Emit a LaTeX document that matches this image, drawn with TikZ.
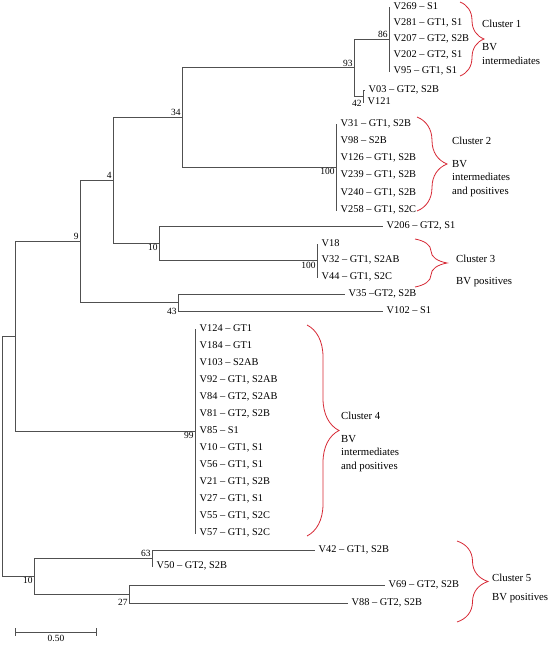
\documentclass[tikz,border=0pt]{standalone}
\usepackage{fontspec}
\setmainfont{Liberation Serif}
\usetikzlibrary{positioning,decorations.pathreplacing}

\definecolor{treegray}{RGB}{80,80,80}
\definecolor{clred}{RGB}{214,40,52}

\begin{document}
\begin{tikzpicture}[x=1bp, y=-1bp,
    branch/.style={draw=treegray, line width=0.8bp},
    leaf/.style={anchor=west, inner xsep=3.5bp, inner ysep=0pt, text height=7bp, text depth=2bp, font=\fontsize{10.4}{12}\selectfont},
    boot/.style={inner sep=1.2bp, font=\fontsize{9.5}{10}\selectfont},
    clbrace/.style={draw=clred, line width=0.8bp, decorate, decoration={brace, amplitude=#1}},
    cltext/.style={anchor=west, align=left, inner sep=0pt, font=\fontsize{10.8}{13.5}\selectfont}]
    \useasboundingbox (0,0) rectangle (549,646);

    % Inner nodes of the tree
    \coordinate (root) at (2,456);
    \coordinate (nJ) at (15,336);
    \coordinate (n9) at (80,241);
    \coordinate (n4) at (113,180);
    \coordinate (n34) at (182,117);
    \coordinate (n93) at (354,67.5);
    \coordinate (n86) at (389,39);
    \coordinate (n42) at (363,96);
    \coordinate (n100a) at (336,167);
    \coordinate (n10a) at (159,243);
    \coordinate (n100b) at (317,260.5);
    \coordinate (n43) at (178,302.5);
    \coordinate (n99) at (195,431);
    \coordinate (n10b) at (34,576);
    \coordinate (n63) at (152,558);
    \coordinate (n27) at (129,594);

    % Leaves, cluster 1
    \foreach \name/\yy/\txt in {v269/7/{V269 -- S1}, v281/23/{V281 -- GT1, S1},
        v207/39/{V207 -- GT2, S2B}, v202/55/{V202 -- GT2, S1}, v95/71/{V95 -- GT1, S1}}
      \node[leaf] (\name) at (390,\yy) {\txt};
    \node[leaf] (v03) at (365,90) {V03 -- GT2, S2B};
    \node[leaf] (v121) at (364,102) {V121};

    % Leaves, cluster 2
    \foreach \name/\yy/\txt in {v31/124/{V31 -- GT1, S2B}, v98/141/{V98 -- S2B},
        v126/158/{V126 -- GT1, S2B}, v239/175/{V239 -- GT1, S2B},
        v240/193/{V240 -- GT1, S2B}, v258/210/{V258 -- GT1, S2C}}
      \node[leaf] (\name) at (337,\yy) {\txt};
    \node[leaf] (v206) at (383,226) {V206 -- GT2, S1};

    % Leaves, cluster 3
    \foreach \name/\yy/\txt in {v18/244/{V18}, v32/260/{V32 -- GT1, S2AB}, v44/277/{V44 -- GT1, S2C}}
      \node[leaf] (\name) at (318,\yy) {\txt};
    \node[leaf] (v35) at (345,294) {V35 --GT2, S2B};
    \node[leaf] (v102) at (383,311) {V102 -- S1};

    % Leaves, cluster 4
    \foreach \name/\txt [count=\i from 0] in {v124/{V124 -- GT1}, v184/{V184 -- GT1},
        v103/{V103 -- S2AB}, v92/{V92 -- GT1, S2AB}, v84/{V84 -- GT2, S2AB},
        v81/{V81 -- GT2, S2B}, v85/{V85 -- S1}, v10/{V10 -- GT1, S1},
        v56/{V56 -- GT1, S1}, v21/{V21 -- GT1, S2B}, v27/{V27 -- GT1, S1},
        v55/{V55 -- GT1, S2C}, v57/{V57 -- GT1, S2C}}
      \node[leaf] (\name) at (196,{329+17*\i}) {\txt};

    % Leaves, cluster 5
    \node[leaf] (v42) at (315,550) {V42 -- GT1, S2B};
    \node[leaf] (v50) at (153,566) {V50 -- GT2, S2B};
    \node[leaf] (v69) at (385,585) {V69 -- GT2, S2B};
    \node[leaf] (v88) at (348,603) {V88 -- GT2, S2B};

    % Draw branches
    \foreach \p/\c in {root/nJ, root/n10b, nJ/n9, nJ/n99, n9/n4, n9/n43,
        n4/n34, n4/n10a, n34/n93, n34/n100a, n93/n86, n93/n42,
        n42/v03, n42/v121, n10a/v206, n10a/n100b, n43/v35, n43/v102,
        n10b/n63, n10b/n27, n63/v42, n63/v50, n27/v69, n27/v88}
      \draw[branch] (\p) |- (\c);
    \foreach \c in {v269,v281,v207,v202,v95}
      \draw[branch] (n86) |- (\c);
    \foreach \c in {v31,v98,v126,v239,v240,v258}
      \draw[branch] (n100a) |- (\c);
    \foreach \c in {v18,v32,v44}
      \draw[branch] (n100b) |- (\c);
    \foreach \c in {v124,v184,v103,v92,v84,v81,v85,v10,v56,v21,v27,v55,v57}
      \draw[branch] (n99) |- (\c);

    % Bootstrap values
    \node[boot, above left] (b86) at (n86) {86};
    \node[boot, above left] (b93) at (n93) {93};
    \node[boot, below left, yshift=-3bp] (b42) at (n42) {42};
    \node[boot, above left] (b34) at (n34) {34};
    \node[boot, below left] (b100a) at (n100a) {100};
    \node[boot, above left] (b4) at (n4) {4};
    \node[boot, below left] (b10a) at (n10a) {10};
    \node[boot, below left] (b100b) at (n100b) {100};
    \node[boot, above left] (b9) at (n9) {9};
    \node[boot, below left, yshift=-4bp] (b43) at (n43) {43};
    \node[boot, below left] (b99) at (n99) {99};
    \node[boot, below left] (b10b) at (n10b) {10};
    \node[boot, above left] (b63) at (n63) {63};
    \node[boot, below left, yshift=-4bp] (b27) at (n27) {27};

    % Cluster braces and notes
    \coordinate (c1top) at (460,2);   \coordinate (c1bot) at (460,76);
    \coordinate (c2top) at (417,117); \coordinate (c2bot) at (417,211);
    \coordinate (c3top) at (415,239); \coordinate (c3bot) at (415,287);
    \coordinate (c4top) at (307,325); \coordinate (c4bot) at (307,536);
    \coordinate (c5top) at (457,541); \coordinate (c5bot) at (457,622);
    \draw[clbrace=24bp] (c1top) -- (c1bot);
    \draw[clbrace=30bp] (c2top) -- (c2bot);
    \draw[clbrace=32bp] (c3top) -- (c3bot);
    \draw[clbrace=32bp] (c4top) -- (c4bot);
    \draw[clbrace=31bp] (c5top) -- (c5bot);

    \node[cltext] (cl1) at (482,24) {Cluster 1};
    \node[cltext] (cl1note) at (482,54) {BV\\intermediates};
    \node[cltext] (cl2) at (452,141) {Cluster 2};
    \node[cltext] (cl2note) at (452,178.5) {BV\\intermediates\\and positives};
    \node[cltext] (cl3) at (456,259) {Cluster 3};
    \node[cltext] (cl3note) at (456,282) {BV positives};
    \node[cltext] (cl4) at (341,416) {Cluster 4};
    \node[cltext] (cl4note) at (341,453.5) {BV\\intermediates\\and positives};
    \node[cltext] (cl5) at (492,578) {Cluster 5};
    \node[cltext] (cl5note) at (492,598) {BV positives};

    % Scale bar
    \coordinate (sb0) at (15,632);
    \coordinate (sb1) at (97,632);
    \draw[branch, |-|] (sb0) -- node[boot, below=2bp] (sblab) {0.50} (sb1);

  \end{tikzpicture}
\end{document}
